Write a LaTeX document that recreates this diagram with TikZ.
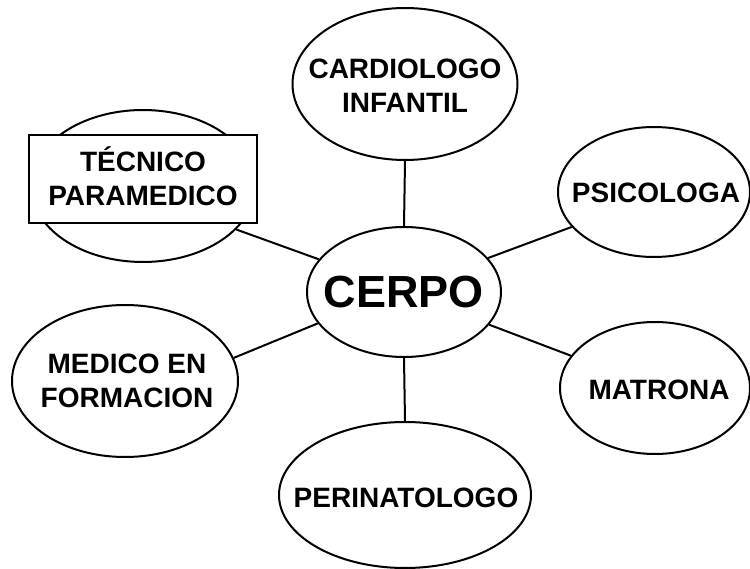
\documentclass[tikz,border=0pt]{standalone}
\usepackage{fontspec}
\setmainfont{Liberation Sans}
\usetikzlibrary{shapes.geometric}
\begin{document}
\begin{tikzpicture}[x=1pt,y=-1pt,
  oval/.style={ellipse, draw, line width=2pt, inner sep=0pt},
  txt/.style={font=\fontsize{28}{34}\selectfont\bfseries, align=center, inner sep=0pt},
  conn/.style={line width=2pt},
]
\useasboundingbox (0,0) rectangle (750,569);
% nodes
\node[oval, minimum width=194pt, minimum height=130pt] (cerpo) at (404,292) {};
\node[txt, font=\fontsize{45}{50}\selectfont\bfseries] (cerpoT) at (cerpo.center) {CERPO};

\node[oval, minimum width=225pt, minimum height=152pt] (card) at (405,84) {};
\node[txt] (cardT) at (405,86) {CARDIOLOGO\\INFANTIL};

\node[oval, minimum width=192pt, minimum height=130pt] (psic) at (654,192) {};
\node[txt] (psicT) at (656,193) {PSICOLOGA};

\node[oval, minimum width=190pt, minimum height=132pt] (matr) at (655,388) {};
\node[txt] (matrT) at (659,390) {MATRONA};

\node[oval, minimum width=252pt, minimum height=146pt] (peri) at (405,495) {};
\node[txt] (periT) at (406,498) {PERINATOLOGO};

\node[oval, minimum width=226pt, minimum height=152pt] (medi) at (125,381) {};
\node[txt] (mediT) at (127,381) {MEDICO EN\\FORMACION};

\node[oval, minimum width=224pt, minimum height=152pt] (tec) at (143,186) {};
\node[draw, fill=white, line width=2pt, minimum width=228pt, minimum height=88pt, inner sep=0pt] (tecR) at (143,179) {};
\node[txt] (tecT) at (143,176) {TÉCNICO\\PARAMEDICO};

% connectors
\draw[conn] (cerpo.north) -- (card.south);
\draw[conn] (cerpo.south) -- (peri.north);
\draw[conn] (cerpo.159) -- (tec.-25);
\draw[conn] (cerpo.22) -- (psic.203);
\draw[conn] (cerpo.-21) -- (matr.159);
\draw[conn] (cerpo.200) -- (medi.12);
\end{tikzpicture}
\end{document}
